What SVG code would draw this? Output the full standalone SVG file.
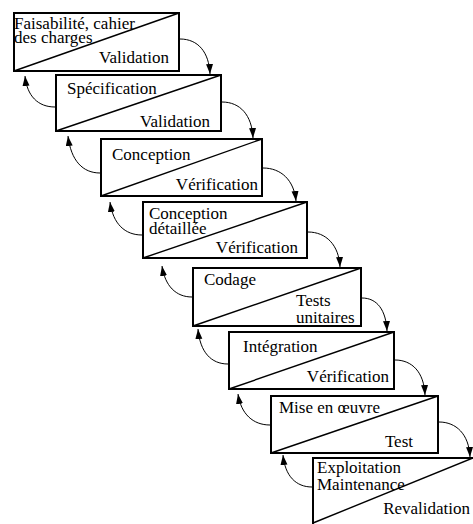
<svg xmlns="http://www.w3.org/2000/svg" width="473" height="524" viewBox="0 0 473 524">
  <defs>
    <marker id="head" markerUnits="userSpaceOnUse" markerWidth="11" markerHeight="8" refX="10" refY="3.5" orient="auto">
      <path d="M0,0 L10,3.5 L0,7 z" fill="#000"/>
    </marker>
  </defs>
  <style>
    .box { fill: #fff; stroke: #000; stroke-width: 2; }
    .diag { stroke: #000; stroke-width: 1.4; fill: none; }
    .lbl { font-family: "Liberation Serif", "Times New Roman", serif; font-size: 17px; fill: #000; }
    .end { text-anchor: end; }
    .arr { fill: none; stroke: #000; stroke-width: 1; marker-end: url(#head); }
  </style>
  <rect width="473" height="524" fill="#fff"/>

  <g id="phase1">
    <rect class="box" x="14" y="13" width="165" height="58"/>
    <line class="diag" x1="14" y1="71" x2="179" y2="13"/>
    <text class="lbl" x="14" y="29">Faisabilité, cahier</text>
    <text class="lbl" x="14" y="43">des charges</text>
    <text class="lbl end" x="169" y="63">Validation</text>
  </g>

  <g id="phase2">
    <rect class="box" x="56" y="75" width="165" height="56"/>
    <line class="diag" x1="56" y1="131" x2="221" y2="75"/>
    <text class="lbl" x="67" y="94">Spécification</text>
    <text class="lbl end" x="210" y="127">Validation</text>
  </g>

  <g id="phase3">
    <rect class="box" x="101" y="139" width="161" height="57"/>
    <line class="diag" x1="101" y1="196" x2="262" y2="139"/>
    <text class="lbl" x="112" y="160">Conception</text>
    <text class="lbl end" x="258" y="190">Vérification</text>
  </g>

  <g id="phase4">
    <rect class="box" x="143" y="202" width="164" height="56"/>
    <line class="diag" x1="143" y1="258" x2="307" y2="202"/>
    <text class="lbl" x="149" y="219">Conception</text>
    <text class="lbl" x="149" y="234">détaillée</text>
    <text class="lbl end" x="298" y="253">Vérification</text>
  </g>

  <g id="phase5">
    <rect class="box" x="193" y="268" width="168" height="58"/>
    <line class="diag" x1="193" y1="326" x2="361" y2="268"/>
    <text class="lbl" x="204" y="285">Codage</text>
    <text class="lbl" x="296" y="306">Tests</text>
    <text class="lbl" x="296" y="323">unitaires</text>
  </g>

  <g id="phase6">
    <rect class="box" x="229" y="332" width="165" height="57"/>
    <line class="diag" x1="229" y1="389" x2="394" y2="332"/>
    <text class="lbl" x="243" y="352">Intégration</text>
    <text class="lbl end" x="389" y="382">Vérification</text>
  </g>

  <g id="phase7">
    <rect class="box" x="271" y="396" width="167" height="57"/>
    <line class="diag" x1="271" y1="453" x2="438" y2="396"/>
    <text class="lbl" x="279" y="413">Mise en œuvre</text>
    <text class="lbl end" x="413" y="447">Test</text>
  </g>

  <g id="phase8">
    <rect class="box" x="313" y="458" width="162" height="68"/>
    <line class="diag" x1="313" y1="523" x2="473" y2="458"/>
    <text class="lbl" x="317" y="473">Exploitation</text>
    <text class="lbl" x="317" y="490">Maintenance</text>
    <text class="lbl end" x="470" y="514">Revalidation</text>
  </g>

  <g id="connectors">
    <!-- forward: right side of a phase down to the top of the next -->
    <path class="arr" d="M180,39 C198,39 209,52 210,74"/>
    <path class="arr" d="M222,102 C240,102 252,115 253,138"/>
    <path class="arr" d="M263,168 C281,168 294,180 296,201"/>
    <path class="arr" d="M308,232 C326,232 339,245 340,267"/>
    <path class="arr" d="M362,298 C377,298 386,310 387,331"/>
    <path class="arr" d="M395,360 C412,360 424,372 425,395"/>
    <path class="arr" d="M439,422 C456,422 469,434 470,457"/>
    <!-- backward: left side of a phase up to the bottom of the previous -->
    <path class="arr" d="M55,107 C38,107 27,96 25,76"/>
    <path class="arr" d="M100,173 C83,173 71,161 68,136"/>
    <path class="arr" d="M142,235 C125,235 113,224 110,202"/>
    <path class="arr" d="M192,297 C176,297 165,286 162,266"/>
    <path class="arr" d="M228,364 C211,364 200,352 198,329"/>
    <path class="arr" d="M270,425 C253,425 241,414 238,394"/>
    <path class="arr" d="M312,487 C296,487 285,476 283,455"/>
  </g>
</svg>
